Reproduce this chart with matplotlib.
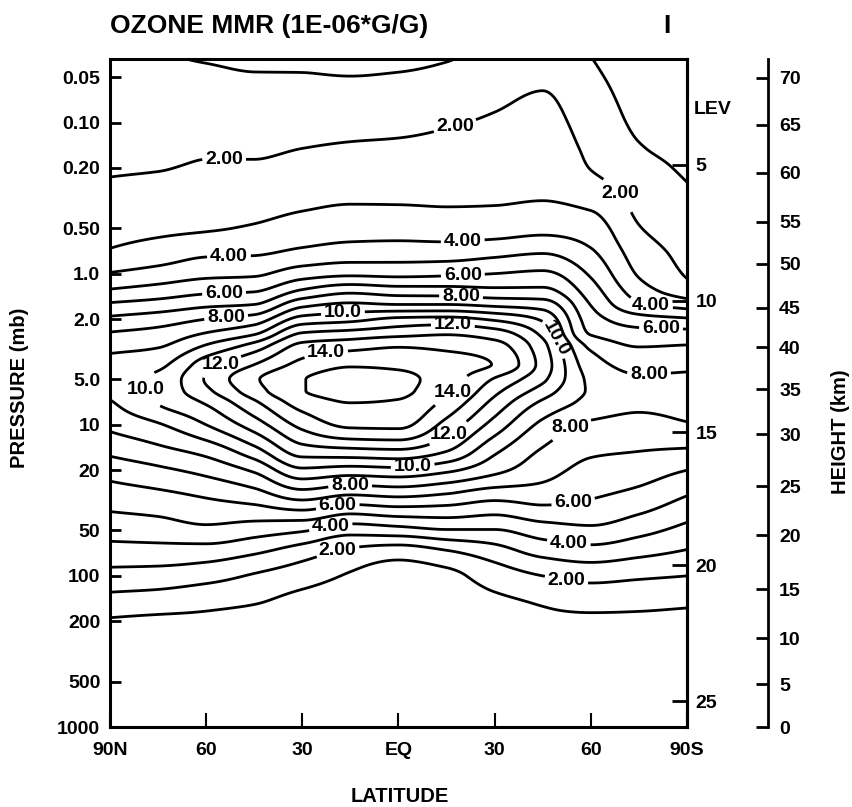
import numpy as np
import matplotlib
matplotlib.use("Agg")
import matplotlib.pyplot as plt
from matplotlib.ticker import NullLocator

plt.rcParams['font.family'] = ['Liberation Sans', 'DejaVu Sans']
plt.rcParams['font.weight'] = 'bold'

# Grid: latitude columns (deg, +N) and pressure rows (mb)
latitudes = [90, 75, 60, 45, 30, 15, 0, -15, -30, -45, -60, -75, -90]
pressures = [0.038, 0.05, 0.07, 0.1, 0.15, 0.2, 0.3, 0.5, 0.7, 1.0, 1.3, 1.6,
             2.0, 2.5, 3.0, 4.0, 5.0, 6.0, 7.0, 10, 15, 20, 30, 50, 70, 100,
             150, 200, 300, 500, 1000]

# Ozone mass mixing ratio (1E-06 g/g) profiles, top (0.038 mb) to bottom (1000 mb)
o3_90n = [1.15, 1.25, 1.4, 1.55, 1.75, 1.9, 2.23, 2.7, 3.04, 4.06, 5.12, 6.14, 7.2, 8.09, 8.64,
          9.4, 9.6, 9.35, 8.94, 8.24, 7.21, 6.39, 5.48, 4.38, 3.59, 2.65, 1.6, 0.9, 0.5, 0.3, 0.2]
o3_75n = [1.06, 1.15, 1.3, 1.5, 1.7, 1.95, 2.34, 2.8, 3.36, 4.39, 5.43, 6.4, 7.5, 8.36, 8.9,
          9.77, 10.2, 10.25, 10.1, 8.9, 7.7, 6.8, 5.7, 4.5, 3.6, 2.57, 1.48, 0.8, 0.45, 0.3, 0.2]
o3_60n = [0.96, 1.13, 1.36, 1.61, 1.88, 2.11, 2.47, 2.91, 3.73, 4.74, 5.79, 6.79, 8.0, 9.08, 10.08,
          11.56, 12.1, 11.76, 11.18, 10.0, 8.3, 7.3, 6.05, 4.75, 3.5, 2.35, 1.25, 0.78, 0.5, 0.3, 0.2]
o3_45n = [0.88, 1.05, 1.3, 1.58, 1.87, 2.12, 2.54, 3.09, 3.79, 4.84, 5.93, 7.0, 8.45, 9.9, 11.38,
          13.0, 13.85, 13.55, 12.9, 11.5, 9.6, 8.15, 6.47, 4.44, 3.1, 1.9, 1.05, 0.65, 0.4, 0.25, 0.2]
o3_30n = [0.9, 1.04, 1.34, 1.66, 2.01, 2.3, 2.7, 3.38, 4.11, 5.54, 7.13, 8.7, 10.38, 12.11, 13.27,
          14.3, 14.95, 14.95, 14.5, 13.3, 11.46, 9.8, 7.3, 4.1, 2.44, 1.43, 0.7, 0.5, 0.35, 0.25, 0.2]
o3_15n = [0.85, 1.01, 1.37, 1.72, 2.11, 2.4, 2.82, 3.55, 4.35, 5.8, 7.75, 9.17, 10.7, 12.4, 13.6,
          14.88, 15.45, 15.4, 15.05, 14.19, 11.67, 9.56, 6.8, 3.4, 1.74, 0.9, 0.5, 0.4, 0.3, 0.25, 0.2]
o3_eq = [0.85, 1.06, 1.39, 1.77, 2.16, 2.43, 2.81, 3.57, 4.4, 5.73, 7.5, 9.0, 11.2, 12.7, 13.9,
         14.78, 15.25, 15.2, 14.94, 14.22, 11.8, 9.7, 7.0, 3.6, 1.4, 0.5, 0.4, 0.35, 0.3, 0.25, 0.2]
o3_15s = [0.96, 1.2, 1.55, 1.92, 2.25, 2.48, 2.8, 3.48, 4.4, 5.82, 7.46, 9.0, 11.3, 12.92, 13.73,
          14.45, 14.5, 14.25, 13.8, 12.65, 11.0, 9.2, 6.73, 3.92, 1.85, 0.75, 0.5, 0.4, 0.3, 0.25, 0.2]
o3_30s = [1.35, 1.55, 1.85, 2.11, 2.37, 2.56, 2.83, 3.53, 4.6, 6.0, 7.27, 8.75, 10.83, 12.5, 13.35,
          13.95, 12.9, 12.26, 11.75, 10.6, 9.17, 8.27, 6.27, 3.94, 2.5, 1.45, 0.8, 0.6, 0.4, 0.3, 0.2]
o3_45s = [1.7, 1.85, 2.09, 2.29, 2.51, 2.68, 2.91, 3.71, 4.82, 6.18, 7.25, 8.5, 9.83, 10.75, 11.3,
          11.6, 11.2, 10.53, 9.89, 8.76, 7.88, 7.4, 6.41, 4.5, 3.28, 2.0, 1.07, 0.8, 0.5, 0.35, 0.25]
o3_60s = [1.02, 1.17, 1.37, 1.57, 1.8, 1.97, 2.6, 3.46, 4.07, 4.86, 5.46, 5.96, 6.47, 6.93, 7.77,
          8.45, 8.8, 8.9, 8.75, 7.83, 7.15, 6.7, 6.07, 4.78, 3.56, 2.3, 1.31, 0.8, 0.5, 0.35, 0.25]
o3_75s = [0.55, 0.65, 0.75, 0.87, 1.06, 1.3, 1.63, 2.05, 2.47, 2.89, 3.46, 4.15, 5.4, 6.38, 6.95,
          7.67, 8.15, 8.5, 8.3, 7.64, 7.0, 6.46, 5.67, 4.3, 3.24, 2.14, 1.23, 0.8, 0.5, 0.35, 0.25]
o3_90s = [0.45, 0.5, 0.58, 0.68, 0.78, 0.88, 1.12, 1.44, 1.67, 1.9, 2.43, 3.55, 5.11, 6.35, 7.04,
          7.77, 8.2, 8.45, 8.4, 7.92, 6.86, 6.0, 4.96, 3.7, 2.89, 2.0, 1.13, 0.75, 0.5, 0.35, 0.25]

labelled_levels = [2, 4, 6, 8, 10, 12, 14]
plain_levels = [1, 3, 5, 7, 9, 11, 13, 15]

p_ticks = [0.05, 0.1, 0.2, 0.5, 1, 2, 5, 10, 20, 50, 100, 200, 500, 1000]
p_tick_labels = ['0.05', '0.10', '0.20', '0.50', '1.0', '2.0', '5.0',
                 '10', '20', '50', '100', '200', '500', '1000']
lat_ticks = [90, 60, 30, 0, -30, -60, -90]
lat_tick_labels = ['90N', '60', '30', 'EQ', '30', '60', '90S']
lev_numbers = [5, 10, 15, 20, 25]
lev_pressures = [0.19, 1.51, 11.2, 85, 674]
height_km = [0, 5, 10, 15, 20, 25, 30, 35, 40, 45, 50, 55, 60, 65, 70]
height_pressures = [1000, 520, 258, 122.6, 53.9, 25.6, 11.6, 5.84, 3.08, 1.677,
                    0.859, 0.453, 0.215, 0.1035, 0.0507]


def pchip(x, y, xq):
    """Monotone piecewise cubic Hermite interpolation (x increasing)."""
    x = np.asarray(x, float)
    y = np.asarray(y, float)
    h = np.diff(x)
    d = np.diff(y) / h
    m = np.zeros_like(y)
    for k in range(1, len(x) - 1):
        if d[k - 1] * d[k] > 0:
            w1 = 2 * h[k] + h[k - 1]
            w2 = h[k] + 2 * h[k - 1]
            m[k] = (w1 + w2) / (w1 / d[k - 1] + w2 / d[k])
    m[0] = d[0]
    m[-1] = d[-1]
    i = np.clip(np.searchsorted(x, xq) - 1, 0, len(x) - 2)
    t = (xq - x[i]) / h[i]
    h00 = 2 * t**3 - 3 * t**2 + 1
    h10 = t**3 - 2 * t**2 + t
    h01 = -2 * t**3 + 3 * t**2
    h11 = t**3 - t**2
    return h00 * y[i] + h10 * h[i] * m[i] + h01 * y[i + 1] + h11 * h[i] * m[i + 1]


columns = [o3_90n, o3_75n, o3_60n, o3_45n, o3_30n, o3_15n, o3_eq,
           o3_15s, o3_30s, o3_45s, o3_60s, o3_75s, o3_90s]
field = np.array(columns, float).T            # (pressure, latitude)

# smooth resampling of the grid for drawing
logp = np.log10(pressures)
fine_logp = np.linspace(logp[0], logp[-1], 600)
lat_asc = np.array(latitudes[::-1], float)
fine_lat = np.linspace(-90, 90, 361)
vert = np.array([pchip(logp, field[:, j], fine_logp) for j in range(field.shape[1])]).T
fine = np.array([pchip(lat_asc, vert[i, ::-1], fine_lat) for i in range(vert.shape[0])])
fine_p = 10 ** fine_logp

W, H = 852, 807
fig = plt.figure(figsize=(W / 100, H / 100), dpi=100)
ax = fig.add_axes([110 / W, 1 - 727 / H, 577 / W, 668 / H])
ax.set_yscale('log')
ax.set_xlim(90, -90)
ax.set_ylim(1000, 0.038)

ax.contour(fine_lat, fine_p, fine, levels=plain_levels, colors='black', linewidths=2.0)
cs = ax.contour(fine_lat, fine_p, fine, levels=labelled_levels, colors='black',
                linewidths=2.0)


def fmt(v):
    return f"{v:.2f}" if v < 10 else f"{v:.1f}"


label_spots = [
    (54.4, 0.177), (-17.6, 0.105), (-67.8, 0.31),
    (52.9, 0.77), (-20.1, 0.64), (-79, 1.53),
    (54.4, 1.38), (-20.1, 1.05), (-81.9, 2.27),
    (53.8, 1.92), (-19.5, 1.44), (-78.1, 4.44),
    (17.3, 1.87), (-51, 2.53), (75.3, 5.66),
    (-17, 2.08), (55, 4.17), (22.6, 3.37), (-16.1, 5.83),
    (-16.1, 11.9), (-4.5, 19.7), (15.1, 24.9), (18.9, 35.3),
    (21.1, 47.6), (19.2, 64.9),
    (-53.5, 10.3), (-54.7, 34.6), (-53.2, 58.9), (-52.3, 109),
]
texts = ax.clabel(cs, inline=True, fmt=fmt, fontsize=14, manual=label_spots,
                  inline_spacing=3)
# labels read upright, except the one riding the steep southern flank
for k, t in enumerate(texts):
    if k != 13:
        t.set_rotation(0)

ax.set_yticks(p_ticks, labels=p_tick_labels)
ax.yaxis.set_minor_locator(NullLocator())
ax.set_xticks(lat_ticks, labels=lat_tick_labels)
ax.tick_params(axis='y', direction='in', length=8, width=2, pad=7, labelsize=14)
ax.tick_params(axis='x', direction='in', length=10, width=1.5, pad=11, labelsize=14)
for s in ax.spines.values():
    s.set_linewidth(2.2)

# model level numbers on the right edge
ax_lev = ax.twinx()
ax_lev.set_yscale('log')
ax_lev.set_ylim(1000, 0.038)
ax_lev.set_yticks(lev_pressures, labels=[str(n) for n in lev_numbers])
ax_lev.yaxis.set_minor_locator(NullLocator())
ax_lev.tick_params(axis='y', direction='in', length=11, width=2, pad=6, labelsize=14)
for s in ['left', 'top', 'bottom']:
    ax_lev.spines[s].set_visible(False)
ax_lev.spines['right'].set_linewidth(2.2)
fig.text(694 / W, 1 - 110 / H, 'LEV', fontsize=14, fontweight='bold',
         ha='left', va='center')

# approximate height scale
ax_ht = ax.twinx()
ax_ht.set_yscale('log')
ax_ht.set_ylim(1000, 0.038)
ax_ht.spines['right'].set_position(('outward', 81 * 0.72))
ax_ht.set_yticks(height_pressures, labels=[str(h) for h in height_km])
ax_ht.yaxis.set_minor_locator(NullLocator())
ax_ht.tick_params(axis='y', direction='in', length=9, width=2, pad=8, labelsize=14)
for s in ['left', 'top', 'bottom']:
    ax_ht.spines[s].set_visible(False)
ax_ht.spines['right'].set_linewidth(2.0)

fig.text(110 / W, 1 - 26 / H, 'OZONE MMR (1E-06*G/G)', fontsize=19,
         fontweight='bold', ha='left', va='center')
fig.text(667 / W, 1 - 26 / H, 'I', fontsize=19, fontweight='bold',
         ha='center', va='center')
fig.text(20 / W, 1 - 388 / H, 'PRESSURE (mb)', fontsize=14.5, fontweight='bold',
         rotation=90, ha='center', va='center')
fig.text(840 / W, 1 - 432 / H, 'HEIGHT (km)', fontsize=14.5, fontweight='bold',
         rotation=90, ha='center', va='center')
fig.text(400 / W, 1 - 797 / H, 'LATITUDE', fontsize=14.5, fontweight='bold',
         ha='center', va='center')

fig.savefig('out.png', dpi=100)
